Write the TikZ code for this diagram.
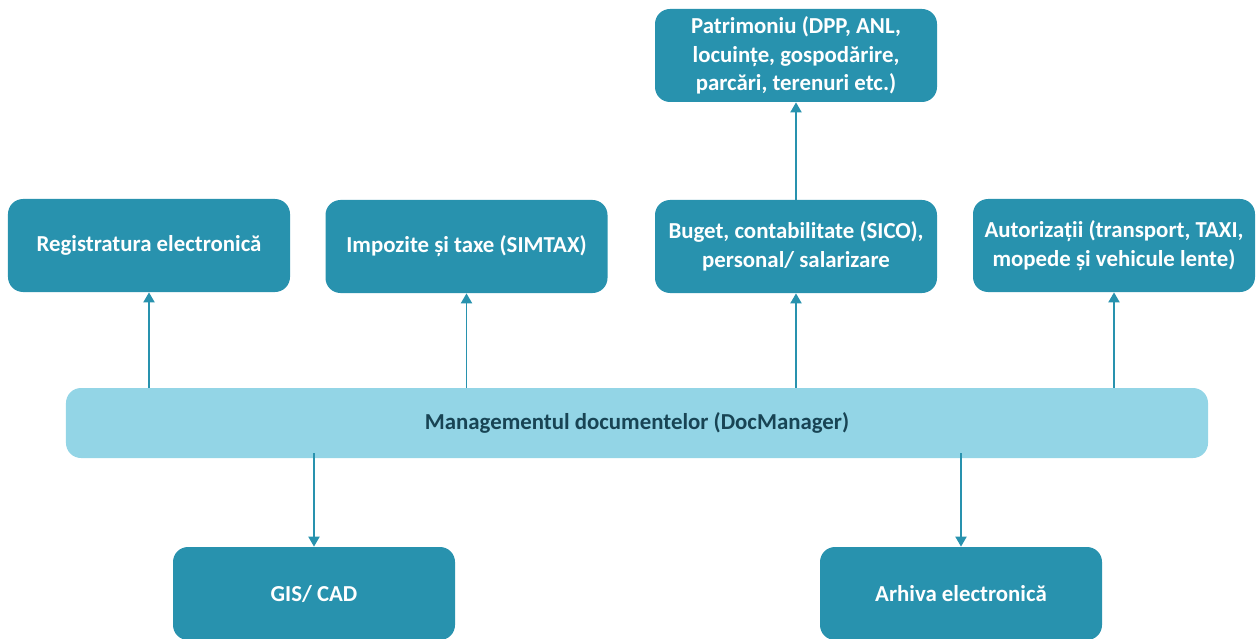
\documentclass[tikz,border=0pt]{standalone}
\usepackage{fontspec}
\setmainfont{Carlito}
\usetikzlibrary{arrows.meta,positioning}
\definecolor{modteal}{RGB}{40,146,174}
\definecolor{busblue}{RGB}{147,213,230}
\definecolor{bustext}{RGB}{24,68,84}
\tikzset{
    % Application module box (teal)
    module/.style={
        rectangle, rounded corners=3mm, fill=modteal, text=white,
        minimum width=56.4mm, minimum height=18.6mm, inner sep=0pt,
        align=center, font=\fontsize{13}{16.2}\selectfont\bfseries
    },
    % Central document management bar
    busbar/.style={
        rectangle, rounded corners=3mm, fill=busblue, text=bustext,
        minimum width=228.4mm, minimum height=14mm, inner sep=0pt,
        font=\fontsize{13}{16.2}\selectfont\bfseries
    },
    % Connectors
    link/.style={-{Triangle[length=2mm,width=2.2mm]}, line width=1.1pt, modteal},
}

\begin{document}
\begin{tikzpicture}[x=0.2mm,y=-0.2mm]
      \useasboundingbox (0,0) rectangle (1256,639);
      % central bar
      \node[busbar] (dm) at (637,423) {Managementul documentelor (DocManager)};
      % upper modules
      \node[module] (reg) at (149,245.5) {Registratura electronică};
      \node[module] (tax) at (466.5,246.5) {Impozite și taxe (SIMTAX)};
      \node[module] (bug) at (796,246.5) {Buget, contabilitate (SICO),\\personal/ salarizare};
      \node[module] (aut) at (1114,245.5) {Autorizații (transport, TAXI,\\mopede și vehicule lente)};
      \node[module] (pat) at (796,55.5) {Patrimoniu (DPP, ANL,\\locuințe, gospodărire,\\parcări, terenuri etc.)};
      % lower modules
      \node[module] (gis) at (314,593.5) {GIS/ CAD};
      \node[module] (arh) at (961,593.5) {Arhiva electronică};
      % links
      \foreach \m in {reg,tax,bug,aut}{\draw[link] (dm.north -| \m) -- (\m.south);}
      \draw[link] (bug) -- (pat);
      \foreach \m in {gis,arh}{\draw[link] ([yshift=1mm]dm.south -| \m) -- (\m.north);}
\end{tikzpicture}
\end{document}
